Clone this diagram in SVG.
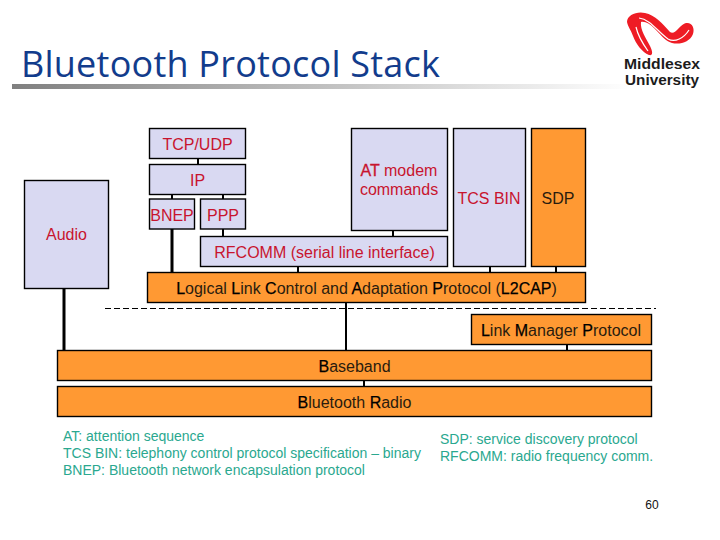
<svg xmlns="http://www.w3.org/2000/svg" width="720" height="540" viewBox="0 0 720 540">
<style>
text{font-family:"Liberation Sans",Arial,sans-serif;font-size:16px;text-anchor:middle}
.b{fill:#d9d9f2;stroke:#000;stroke-width:1.4}
.o{fill:#ff9933;stroke:#000;stroke-width:1.4}
.r{fill:#c8142e}
.k{fill:#2a1c0e}
.d{fill:#000;stroke:#000;stroke-width:.25}
.e{stroke:#c8142e;stroke-width:.3}
.g{fill:#2aa88f;text-anchor:start;font-size:14px}
.c{stroke:#000;stroke-width:2;fill:none}
.t{stroke-width:3}
.u{font-size:14px;font-weight:bold;fill:#1c1c1c}
</style>
<defs><linearGradient id="bar"><stop offset="0" stop-color="#808080"/><stop offset="1" stop-color="#fff"/></linearGradient></defs>
<rect width="720" height="540" fill="#fff"/>
<rect x="12" y="84" width="620" height="5" fill="url(#bar)"/>
<text x="21" y="77" textLength="419" lengthAdjust="spacing" style="font-family:'Open Sans',sans-serif;font-size:36px;text-anchor:start;fill:#123c8c">Bluetooth Protocol Stack</text>
<g id="logo">
<path d="M627 22C627 15 637 11 645 13C655 15 663 24 670 32C675 36 680 24 686 23C692 22 695 28 693 34C690 42 680 45 672 43C665 41 660 34 654 28C650 24 645 21 641 22C640 30 646 38 650 46C653 52 653 56 649 55C642 52 636 44 633 36C631 30 628 27 627 22Z" fill="#ee1c25"/>
<path d="M639 18C650 19 658 32 668 39C675 43 684 38 689 30M636 27C638 36 643 44 648 51" fill="none" stroke="#fff" stroke-width="1.2"/>
<text class="u" x="662" y="68.500" textLength="76" lengthAdjust="spacingAndGlyphs">Middlesex</text>
<text class="u" x="662" y="85" textLength="74" lengthAdjust="spacingAndGlyphs">University</text>
</g>
<g id="connectors">
<path class="c" d="M198 158V165M172 194V199M223 194V199M223 229V237M298 266V273M393 230V237M490 266V273M556 266V273M346 302V351M567 344V351M364 380V387"/>
<path class="c t" d="M172 229V273M64 288V351"/>
<path d="M105 308.500H656" stroke="#000" stroke-width="1" stroke-dasharray="6 3" fill="none"/>
</g>
<g id="tcpudp"><rect class="b" x="149.500" y="128.500" width="96" height="30"/><text class="r" x="197.500" y="150">TCP/UDP</text></g>
<g id="ip"><rect class="b" x="149.500" y="164.500" width="96" height="30"/><text class="r" x="197.500" y="186">IP</text></g>
<g id="bnep"><rect class="b" x="149.500" y="199" width="45" height="30"/><text class="r" x="172" y="221">BNEP</text></g>
<g id="ppp"><rect class="b" x="200.500" y="199" width="45" height="30"/><text class="r" x="223" y="221">PPP</text></g>
<g id="rfcomm"><rect class="b" x="200.500" y="236.500" width="247" height="30"/><text class="r" x="324.500" y="258">RFCOMM (serial line interface)</text></g>
<g id="at"><rect class="b" x="351.500" y="128.500" width="96" height="102"/><text class="r" x="399" y="176"><tspan class="e">AT</tspan> modem</text><text class="r" x="399" y="195">commands</text></g>
<g id="tcsbin"><rect class="b" x="453.500" y="128.500" width="72" height="138"/><text class="r" x="489" y="204">TCS BIN</text></g>
<g id="sdp"><rect class="o" x="531.500" y="128.500" width="54" height="138"/><text class="k" x="558" y="204">SDP</text></g>
<g id="audio"><rect class="b" x="24.500" y="180.500" width="84" height="108"/><text class="r" x="66.500" y="240">Audio</text></g>
<g id="l2cap"><rect class="o" x="147.500" y="272.500" width="438" height="30"/><text class="k" x="366.500" y="294"><tspan class="d">L</tspan>ogical <tspan class="d">L</tspan>ink <tspan class="d">C</tspan>ontrol and <tspan class="d">A</tspan>daptation <tspan class="d">P</tspan>rotocol (<tspan class="d">L2CAP</tspan>)</text></g>
<g id="lmp"><rect class="o" x="471.500" y="314.500" width="180" height="30"/><text class="k" x="561" y="336"><tspan class="d">L</tspan>ink <tspan class="d">M</tspan>anager <tspan class="d">P</tspan>rotocol</text></g>
<g id="baseband"><rect class="o" x="57.500" y="350.500" width="594" height="30"/><text class="k" x="354.500" y="372"><tspan class="d">B</tspan>aseband</text></g>
<g id="radio"><rect class="o" x="57.500" y="386.500" width="594" height="30"/><text class="k" x="354.500" y="408"><tspan class="d">B</tspan>luetooth <tspan class="d">R</tspan>adio</text></g>
<text class="g" x="63" y="441">AT: attention sequence</text>
<text class="g" x="63" y="458">TCS BIN: telephony control protocol specification – binary</text>
<text class="g" x="63" y="475">BNEP: Bluetooth network encapsulation protocol</text>
<text class="g" x="440" y="444">SDP: service discovery protocol</text>
<text class="g" x="440" y="461">RFCOMM: radio frequency comm.</text>
<text x="652" y="509" style="font-size:12px;fill:#111">60</text>
</svg>
